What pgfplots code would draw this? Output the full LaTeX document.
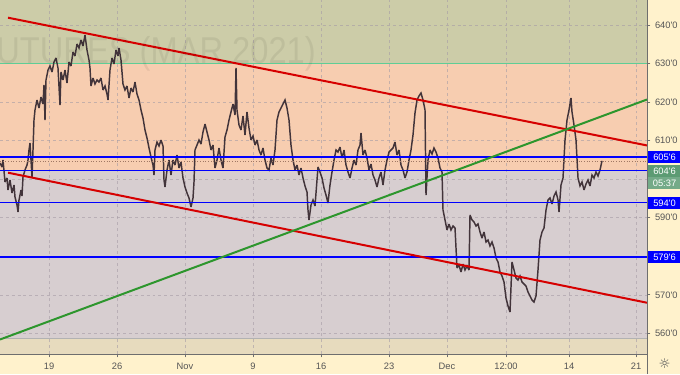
\documentclass[border=0pt]{standalone}
\usepackage{fontspec}
\setmainfont{Liberation Sans}
\newfontfamily\dejavu{DejaVu Sans}
\usepackage{pgfplots}
\usepackage{pgfplotstable}
\pgfplotsset{compat=1.18}
\definecolor{bgolive}{RGB}{204,204,168}
\definecolor{bgpeach}{RGB}{247,205,176}
\definecolor{bglav}{RGB}{215,206,208}
\definecolor{bgtan}{RGB}{231,219,190}
\definecolor{outerbg}{RGB}{255,242,204}
\definecolor{tealline}{RGB}{95,205,150}
\definecolor{trred}{RGB}{214,0,0}
\definecolor{trgreen}{RGB}{45,150,45}
\definecolor{hblue}{RGB}{0,0,255}
\definecolor{candle}{RGB}{66,52,58}
\definecolor{pricedot}{RGB}{160,120,100}
\definecolor{gridc}{RGB}{165,155,165}
\definecolor{axisgray}{RGB}{110,110,110}
\definecolor{ticktext}{RGB}{85,85,85}
\definecolor{lastgreen}{RGB}{92,155,115}
\newcommand\q{\textquotesingle}
\pgfplotstableread{
x p
0 604.19
2 603.16
3 604.97
5 599.26
7 600.30
8 597.19
10 599.78
12 596.41
14 598.48
15 595.37
17 593.30
18 591.48
19 594.59
21 597.19
22 595.63
23 600.56
25 602.38
27 603.67
28 604.97
29 607.57
30 609.38
31 604.97
32 600.56
33 607.57
34 615.35
35 617.95
37 620.54
39 618.46
41 621.32
43 619.50
44 624.43
45 615.35
46 625.73
48 628.32
50 629.36
52 627.80
54 630.40
56 631.44
58 628.84
60 619.24
61 627.80
63 625.73
65 628.32
67 624.95
69 630.40
71 629.36
73 632.99
75 631.96
77 635.07
79 634.03
81 636.11
83 634.55
85 637.41
87 633.51
89 630.92
90 628.84
91 624.17
93 626.25
95 624.69
97 625.73
99 625.21
101 626.25
103 623.14
105 624.17
107 622.10
108 620.54
110 628.32
112 631.44
114 629.88
116 633.51
118 631.96
119 634.03
121 630.92
123 624.69
125 623.14
127 624.17
129 621.06
131 623.65
133 622.62
135 625.21
137 622.10
139 620.54
141 617.95
143 615.87
145 612.76
147 610.68
149 608.09
151 605.75
153 603.67
154 601.08
155 607.57
157 609.64
159 608.60
161 610.16
163 608.60
164 599.78
165 597.97
167 602.38
169 604.97
171 601.08
173 604.97
175 603.67
177 606.27
179 602.89
181 604.45
183 600.30
185 597.97
187 596.41
189 595.11
191 592.78
193 595.11
194 599.26
195 607.57
197 608.86
199 610.16
201 609.12
203 612.24
205 614.31
207 612.24
209 610.16
211 607.57
213 608.86
215 602.89
217 604.97
219 608.09
221 604.97
223 602.89
225 610.94
227 612.76
229 615.35
231 617.43
233 619.50
235 616.65
236 628.84
237 617.95
239 614.05
241 612.76
243 616.39
245 611.46
247 617.43
249 613.27
251 610.16
253 611.20
255 608.86
257 610.16
259 607.57
261 606.27
263 608.09
265 604.97
267 602.89
269 602.38
271 605.49
273 603.67
275 607.57
277 615.35
279 617.43
281 618.46
283 619.50
285 620.54
287 618.46
289 615.35
291 608.86
293 604.97
295 602.38
297 603.67
299 601.08
301 602.89
303 600.30
305 598.23
307 596.67
308 591.99
309 589.42
311 593.30
313 594.59
315 593.04
317 599.78
318 603.16
320 601.86
322 600.30
324 597.71
326 595.89
328 593.81
330 598.48
332 601.86
334 604.97
336 607.57
338 607.05
340 608.34
342 605.49
344 607.57
346 603.67
348 601.86
350 600.30
352 602.89
354 604.97
356 603.67
358 607.57
360 608.86
361 611.98
363 606.27
365 607.57
367 605.49
369 602.38
371 603.93
373 601.08
375 599.78
377 597.97
379 600.30
381 601.86
383 598.48
385 602.38
387 604.97
389 607.05
391 607.57
393 608.09
395 609.64
397 606.27
399 607.57
401 603.67
403 602.38
405 600.30
407 601.86
409 604.97
411 607.57
413 611.46
415 617.17
417 620.54
419 621.58
421 622.36
423 620.54
425 617.95
426 595.89
428 604.97
430 607.57
432 606.53
434 608.09
436 607.05
438 605.49
440 602.89
442 601.86
443 591.99
445 589.42
447 586.81
449 588.37
451 586.81
453 587.85
455 587.33
457 576.95
459 577.73
461 575.91
463 577.99
465 576.43
467 577.47
469 576.43
470 590.70
472 589.42
474 588.89
476 587.85
478 588.37
480 586.29
482 584.73
484 586.29
486 583.70
488 584.21
490 582.66
492 583.70
494 582.14
496 579.54
498 578.51
500 575.91
502 574.87
504 573.32
506 569.16
508 567.09
510 565.53
512 578.51
514 576.43
516 574.35
518 573.83
520 574.87
522 573.32
524 572.80
526 572.27
528 570.72
530 569.69
532 568.65
534 568.13
536 569.69
538 576.43
540 584.21
542 586.29
544 587.33
546 591.99
548 594.59
550 595.11
552 593.56
554 595.63
556 596.67
558 594.59
559 591.48
561 598.48
563 600.30
565 610.16
567 615.35
569 617.95
571 621.06
572 617.43
574 614.05
576 610.16
578 600.30
580 598.23
582 599.26
584 597.19
586 598.74
588 599.78
590 598.23
592 601.08
594 600.30
596 601.86
598 600.82
600 602.38
602 604.75
}\price
\begin{document}
\begin{tikzpicture}[x=1pt,y=1pt]
\fill[outerbg] (0,-15) rectangle (510,265.5);
\begin{axis}[name=ax, at={(0,0)}, anchor=south west, scale only axis,
  width=485.25pt, height=265.5pt,
  xmin=0, xmax=647, ymin=554.64, ymax=646.49,
  axis x line*=bottom, axis y line*=right,
  axis line style={draw=axisgray, line width=0.6pt, -},
  tick align=outside, major tick length=2.5pt,
  tick style={draw=axisgray, line width=0.5pt},
  xtick={49,117,185,253,321,389,447,506,569,636},
  xticklabels={19,26,Nov,9,16,23,Dec,12:00,14,21},
  ytick={560,570,580,590,600,610,620,630,640},
  yticklabels={560\q0,570\q0,,590\q0,,610\q0,620\q0,630\q0,640\q0},
  ticklabel style={font=\fontsize{7}{8}\selectfont, text=ticktext},
  xticklabel style={yshift=-0.5pt},
]
\fill[bgolive] (axis cs:0,630) rectangle (axis cs:647,646.49);
\fill[bgpeach] (axis cs:0,602.4) rectangle (axis cs:647,630);
\fill[bglav] (axis cs:0,558.8) rectangle (axis cs:647,602.4);
\fill[bgtan] (axis cs:0,554.64) rectangle (axis cs:647,558.8);
\pgfplotsinvokeforeach{49,117,185,253,321,389,447,506,569,636}{
  \draw[draw=gridc, line width=0.35pt, dash pattern=on 2.2pt off 2.2pt, opacity=0.6] (axis cs:#1,554.64) -- (axis cs:#1,646.49);}
\pgfplotsinvokeforeach{560,570,580,590,600,610,620,630,640}{
  \draw[draw=gridc, line width=0.35pt, dash pattern=on 2.2pt off 2.2pt, opacity=0.6] (axis cs:0,#1) -- (axis cs:647,#1);}
\addplot[draw=gray!60, line width=0.4pt] coordinates {(0,558.8)(647,558.8)};
\addplot[draw=tealline, line width=0.8pt] coordinates {(0,630)(647,630)};
\addplot[draw=candle, line width=1.1pt, line join=miter, miter limit=3] table[x=x, y=p] {\price};
\addplot[draw=pricedot, line width=0.5pt, dash pattern=on 0.8pt off 1.2pt] coordinates {(0,604.75)(647,604.75)};
\addplot[draw=hblue, line width=0.5pt] coordinates {(0,602.4)(647,602.4)};
\addplot[draw=hblue, line width=1.1pt] coordinates {(0,605.75)(647,605.75)};
\addplot[draw=hblue, line width=1.1pt] coordinates {(0,594)(647,594)};
\addplot[draw=hblue, line width=1.1pt] coordinates {(0,579.75)(647,579.75)};
\addplot[draw=trred, line width=1.5pt] coordinates {(8,641.89)(647,608.75)};
\addplot[draw=trred, line width=1.5pt] coordinates {(8,601.68)(647,567.94)};
\addplot[draw=trgreen, line width=1.5pt] coordinates {(0,558.40)(647,620.67)};
\end{axis}
\begin{scope}
\clip (0,0) rectangle (485.25,265.5);
\node[anchor=base east, font=\fontsize{28}{30}\selectfont, text=black, opacity=0.065, xscale=0.875, inner sep=0pt] at (237,217.5) {FUTURES (MAR 2021)};
\end{scope}
\draw[axisgray, line width=0.6pt] (485.25,-15) -- (485.25,265.5);
\tikzset{lab/.style={anchor=west, inner sep=0pt, minimum width=24pt, minimum height=9pt, font=\fontsize{7}{8}\selectfont, text=white}}
\node[lab, fill=hblue] at (485.6,147.75) {\,605\q6};
\node[lab, fill=lastgreen] at (485.6,137.25) {\,604\q6};
\node[lab, fill=lastgreen!85!white] at (485.6,128.25) {\,05:37};
\node[lab, fill=hblue] at (485.6,113.25) {\,594\q0};
\node[lab, fill=hblue] at (485.6,72.75) {\,579\q6};
\node[font=\dejavu\fontsize{10}{10}\selectfont, text=ticktext] at (498.5,-7.5) {☼};
\pgfresetboundingbox
\path (0,-15) rectangle (510,265.5);
\end{tikzpicture}
\end{document}
